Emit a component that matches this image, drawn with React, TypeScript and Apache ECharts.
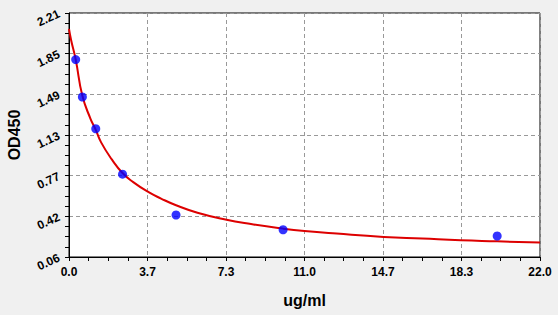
import React, { useEffect, useRef } from "react";
import * as echarts from "echarts";

const xTickLabels = ["0.0", "3.7", "7.3", "11.0", "14.7", "18.3", "22.0"];
const yTickLabels = ["0.06", "0.42", "0.77", "1.13", "1.49", "1.85", "2.21"];

const xMin = 0;
const xMax = 22;
const yMin = 0.06;
const yMax = 2.21;

const pointX = [0.3125, 0.625, 1.25, 2.5, 5, 10, 20];
const pointY = [1.8, 1.47, 1.19, 0.79, 0.43, 0.3, 0.245];

const curveX = [0, 0.1, 0.3125, 0.625, 1, 1.25, 1.5, 2, 2.5, 3, 3.7, 4.3, 5, 6, 7.3, 8.5, 10, 11, 12.5, 14.7, 16.5, 18.3, 20, 22];
const curveY = [2.07, 1.97, 1.8, 1.48, 1.28, 1.18, 1.07, 0.92, 0.8, 0.72, 0.633, 0.575, 0.516, 0.45, 0.39, 0.35, 0.31, 0.289, 0.266, 0.237, 0.222, 0.207, 0.198, 0.187];

export default function App() {
  const ref = useRef<HTMLDivElement>(null);
  useEffect(() => {
    const chart = echarts.init(ref.current!, null, { renderer: "svg" });
    const xInterval = (xMax - xMin) / (xTickLabels.length - 1);
    const yInterval = (yMax - yMin) / (yTickLabels.length - 1);
    const font = "Liberation Sans";
    chart.setOption({
      animation: false,
      backgroundColor: "#f0f0f0",
      grid: {
        left: 69,
        right: 18,
        top: 13,
        bottom: 58,
        outerBoundsMode: "none",
        containLabel: false,
        show: true,
        backgroundColor: "#ffffff",
        borderColor: "#000000",
        borderWidth: 1,
      },
      xAxis: {
        type: "value",
        min: xMin,
        max: xMax,
        interval: xInterval,
        name: "ug/ml",
        nameLocation: "middle",
        nameGap: 35,
        nameTextStyle: { fontFamily: font, fontSize: 16, fontWeight: "bold", color: "#000" },
        axisLine: { show: true, onZero: false, lineStyle: { color: "#000", width: 1 } },
        axisTick: { show: true, length: 4, lineStyle: { color: "#000" } },
        minorTick: { show: true, splitNumber: 4, length: 4, lineStyle: { color: "#000" } },
        axisLabel: {
          margin: 9,
          fontFamily: font,
          fontSize: 12,
          fontWeight: "bold",
          color: "#000",
          formatter: (v: number) => xTickLabels[Math.round((v - xMin) / xInterval)] ?? "",
        },
        splitLine: { show: true, lineStyle: { color: "#999", type: [4, 3], width: 1 } },
      },
      yAxis: {
        type: "value",
        min: yMin,
        max: yMax,
        interval: yInterval,
        name: "OD450",
        nameLocation: "middle",
        nameGap: 47,
        nameTextStyle: { fontFamily: font, fontSize: 16, fontWeight: "bold", color: "#000" },
        axisLine: { show: true, onZero: false, lineStyle: { color: "#000", width: 1 } },
        axisTick: { show: true, length: 4, lineStyle: { color: "#000" } },
        minorTick: { show: true, splitNumber: 4, length: 4, lineStyle: { color: "#000" } },
        axisLabel: {
          margin: 10,
          rotate: 25,
          fontFamily: font,
          fontSize: 12,
          fontWeight: "bold",
          color: "#000",
          formatter: (v: number) => yTickLabels[Math.round((v - yMin) / yInterval)] ?? "",
        },
        splitLine: { show: true, lineStyle: { color: "#999", type: [4, 3], width: 1 } },
      },
      series: [
        {
          type: "line",
          data: curveX.map((x, i) => [x, curveY[i]]),
          smooth: 0.5,
          showSymbol: false,
          symbol: "none",
          lineStyle: { color: "#dd0000", width: 2 },
          z: 2,
        },
        {
          type: "scatter",
          data: pointX.map((x, i) => [x, pointY[i]]),
          symbol: "circle",
          symbolSize: 9,
          itemStyle: { color: "#0000ff" },
          z: 3,
        },
      ],
    });
    return () => chart.dispose();
  }, []);
  return <div ref={ref} style={{ position: "absolute", left: 0, top: 0, width: 558, height: 315 }} />;
}
